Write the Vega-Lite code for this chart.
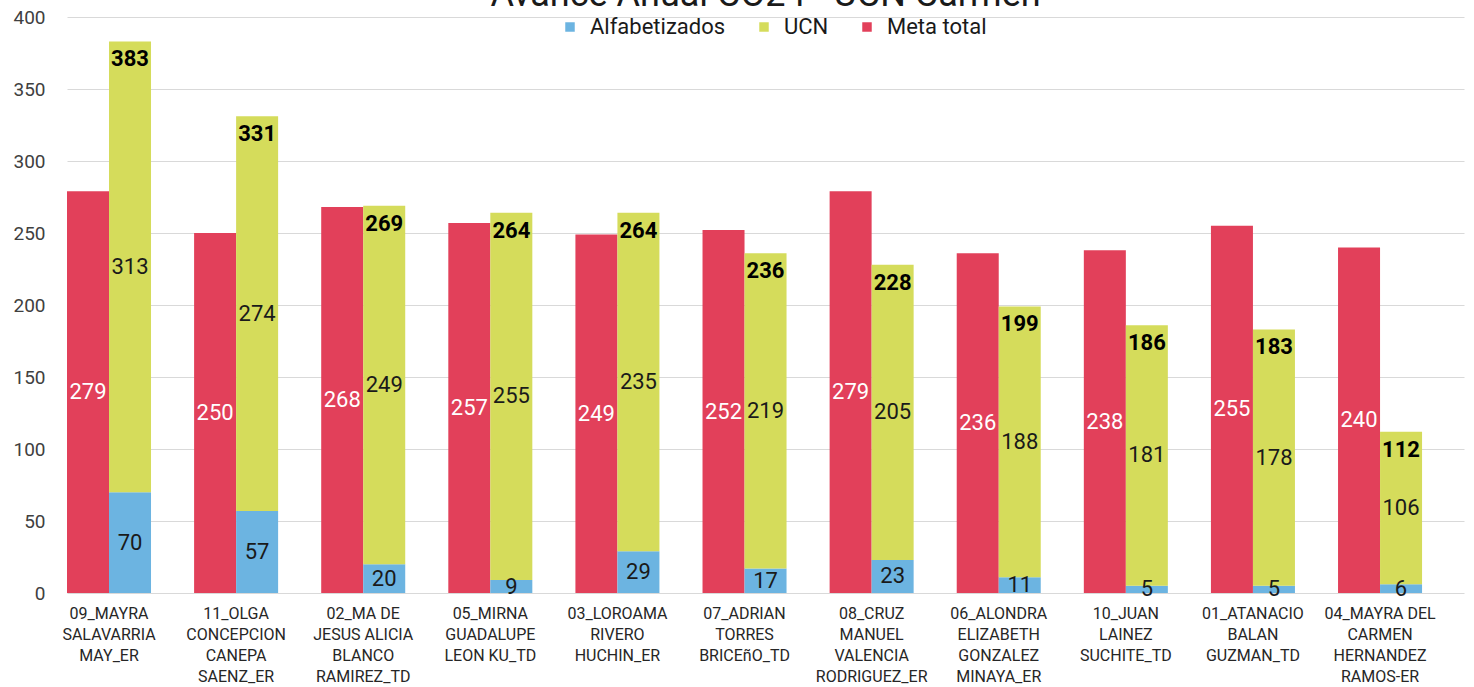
{
  "$schema": "https://vega.github.io/schema/vega-lite/v6.json",
  "width": 1397,
  "height": 576,
  "autosize": {"type": "pad"},
  "padding": {"left": 12, "top": -23, "right": 9, "bottom": 0},
  "background": "white",
  "title": {"text": "Avance Anual CO24 - UCN Carmen", "fontSize": 36, "font": "Roboto", "fontWeight": "normal", "color": "#1a1a1a", "anchor": "middle", "offset": -6},
  "data": {"values": [
    {"n": "09_MAYRA\nSALAVARRIA\nMAY_ER", "s": "Meta total", "g": "m", "v": 279},
    {"n": "09_MAYRA\nSALAVARRIA\nMAY_ER", "s": "Alfabetizados", "g": "a", "v": 70},
    {"n": "09_MAYRA\nSALAVARRIA\nMAY_ER", "s": "UCN", "g": "a", "v": 313},
    {"n": "11_OLGA\nCONCEPCION\nCANEPA\nSAENZ_ER", "s": "Meta total", "g": "m", "v": 250},
    {"n": "11_OLGA\nCONCEPCION\nCANEPA\nSAENZ_ER", "s": "Alfabetizados", "g": "a", "v": 57},
    {"n": "11_OLGA\nCONCEPCION\nCANEPA\nSAENZ_ER", "s": "UCN", "g": "a", "v": 274},
    {"n": "02_MA DE\nJESUS ALICIA\nBLANCO\nRAMIREZ_TD", "s": "Meta total", "g": "m", "v": 268},
    {"n": "02_MA DE\nJESUS ALICIA\nBLANCO\nRAMIREZ_TD", "s": "Alfabetizados", "g": "a", "v": 20},
    {"n": "02_MA DE\nJESUS ALICIA\nBLANCO\nRAMIREZ_TD", "s": "UCN", "g": "a", "v": 249},
    {"n": "05_MIRNA\nGUADALUPE\nLEON KU_TD", "s": "Meta total", "g": "m", "v": 257},
    {"n": "05_MIRNA\nGUADALUPE\nLEON KU_TD", "s": "Alfabetizados", "g": "a", "v": 9},
    {"n": "05_MIRNA\nGUADALUPE\nLEON KU_TD", "s": "UCN", "g": "a", "v": 255},
    {"n": "03_LOROAMA\nRIVERO\nHUCHIN_ER", "s": "Meta total", "g": "m", "v": 249},
    {"n": "03_LOROAMA\nRIVERO\nHUCHIN_ER", "s": "Alfabetizados", "g": "a", "v": 29},
    {"n": "03_LOROAMA\nRIVERO\nHUCHIN_ER", "s": "UCN", "g": "a", "v": 235},
    {"n": "07_ADRIAN\nTORRES\nBRICEñO_TD", "s": "Meta total", "g": "m", "v": 252},
    {"n": "07_ADRIAN\nTORRES\nBRICEñO_TD", "s": "Alfabetizados", "g": "a", "v": 17},
    {"n": "07_ADRIAN\nTORRES\nBRICEñO_TD", "s": "UCN", "g": "a", "v": 219},
    {"n": "08_CRUZ\nMANUEL\nVALENCIA\nRODRIGUEZ_ER", "s": "Meta total", "g": "m", "v": 279},
    {"n": "08_CRUZ\nMANUEL\nVALENCIA\nRODRIGUEZ_ER", "s": "Alfabetizados", "g": "a", "v": 23},
    {"n": "08_CRUZ\nMANUEL\nVALENCIA\nRODRIGUEZ_ER", "s": "UCN", "g": "a", "v": 205},
    {"n": "06_ALONDRA\nELIZABETH\nGONZALEZ\nMINAYA_ER", "s": "Meta total", "g": "m", "v": 236},
    {"n": "06_ALONDRA\nELIZABETH\nGONZALEZ\nMINAYA_ER", "s": "Alfabetizados", "g": "a", "v": 11},
    {"n": "06_ALONDRA\nELIZABETH\nGONZALEZ\nMINAYA_ER", "s": "UCN", "g": "a", "v": 188},
    {"n": "10_JUAN\nLAINEZ\nSUCHITE_TD", "s": "Meta total", "g": "m", "v": 238},
    {"n": "10_JUAN\nLAINEZ\nSUCHITE_TD", "s": "Alfabetizados", "g": "a", "v": 5},
    {"n": "10_JUAN\nLAINEZ\nSUCHITE_TD", "s": "UCN", "g": "a", "v": 181},
    {"n": "01_ATANACIO\nBALAN\nGUZMAN_TD", "s": "Meta total", "g": "m", "v": 255},
    {"n": "01_ATANACIO\nBALAN\nGUZMAN_TD", "s": "Alfabetizados", "g": "a", "v": 5},
    {"n": "01_ATANACIO\nBALAN\nGUZMAN_TD", "s": "UCN", "g": "a", "v": 178},
    {"n": "04_MAYRA DEL\nCARMEN\nHERNANDEZ\nRAMOS-ER", "s": "Meta total", "g": "m", "v": 240},
    {"n": "04_MAYRA DEL\nCARMEN\nHERNANDEZ\nRAMOS-ER", "s": "Alfabetizados", "g": "a", "v": 6},
    {"n": "04_MAYRA DEL\nCARMEN\nHERNANDEZ\nRAMOS-ER", "s": "UCN", "g": "a", "v": 106}
  ]},
  "transform": [
    {"stack": "v", "groupby": ["n", "g"], "sort": [{"field": "s", "order": "ascending"}], "as": ["v0", "v1"]},
    {"calculate": "(datum.v0 + datum.v1) / 2", "as": "mid"}
  ],
  "encoding": {
    "x": {
      "field": "n", "type": "nominal", "sort": null,
      "scale": {"paddingInner": 0.339, "paddingOuter": 0.165, "align": 0},
      "axis": {"title": null, "labelAngle": 0, "labelExpr": "split(datum.label, '\\n')", "labelFont": "Roboto", "labelFontSize": 16, "labelLineHeight": 21, "labelPadding": 12, "labelColor": "#262626", "ticks": false, "domain": false, "labelOverlap": false, "labelBound": false, "labelLimit": 0}
    },
    "xOffset": {"field": "g", "type": "nominal", "sort": ["m", "a"], "scale": {"paddingInner": 0, "paddingOuter": 0}}
  },
  "layer": [
    {
      "mark": {"type": "bar"},
      "encoding": {
        "y": {"field": "v1", "type": "quantitative", "scale": {"domain": [0, 400], "nice": false},
          "axis": {"title": null, "values": [0, 50, 100, 150, 200, 250, 300, 350, 400], "grid": true, "gridColor": "#D9D9D9", "gridWidth": 1, "domain": false, "ticks": false, "labelFont": "Roboto", "labelFontSize": 19, "labelPadding": 22, "labelColor": "#404040"}},
        "y2": {"field": "v0"},
        "color": {"field": "s", "type": "nominal",
          "scale": {"domain": ["Alfabetizados", "UCN", "Meta total"], "range": ["#6CB4E1", "#D5DC5B", "#E2405A"]},
          "legend": {"title": null, "orient": "none", "legendX": 492, "legendY": -1, "direction": "horizontal", "symbolType": "square", "symbolSize": 90, "symbolStrokeWidth": 0, "labelFont": "Roboto", "labelFontSize": 22, "labelColor": "#1a1a1a", "labelOffset": 9, "columnPadding": 27}}
      }
    },
    {
      "mark": {"type": "text", "font": "Roboto", "fontSize": 22, "baseline": "middle", "align": "center"},
      "encoding": {
        "y": {"field": "mid", "type": "quantitative"},
        "text": {"field": "v", "type": "quantitative"},
        "color": {"condition": {"test": "datum.s === 'Meta total'", "value": "#ffffff"}, "value": "#1a1a1a"}
      }
    },
    {
      "transform": [
        {"filter": "datum.g === 'a'"},
        {"aggregate": [{"op": "sum", "field": "v", "as": "t"}], "groupby": ["n", "g"]}
      ],
      "mark": {"type": "text", "font": "Roboto", "fontSize": 22, "fontWeight": "bold", "baseline": "middle", "align": "center", "dy": 18, "color": "#000000"},
      "encoding": {
        "y": {"field": "t", "type": "quantitative"},
        "text": {"field": "t", "type": "quantitative"}
      }
    }
  ],
  "config": {"view": {"stroke": null}, "font": "Roboto"}
}
